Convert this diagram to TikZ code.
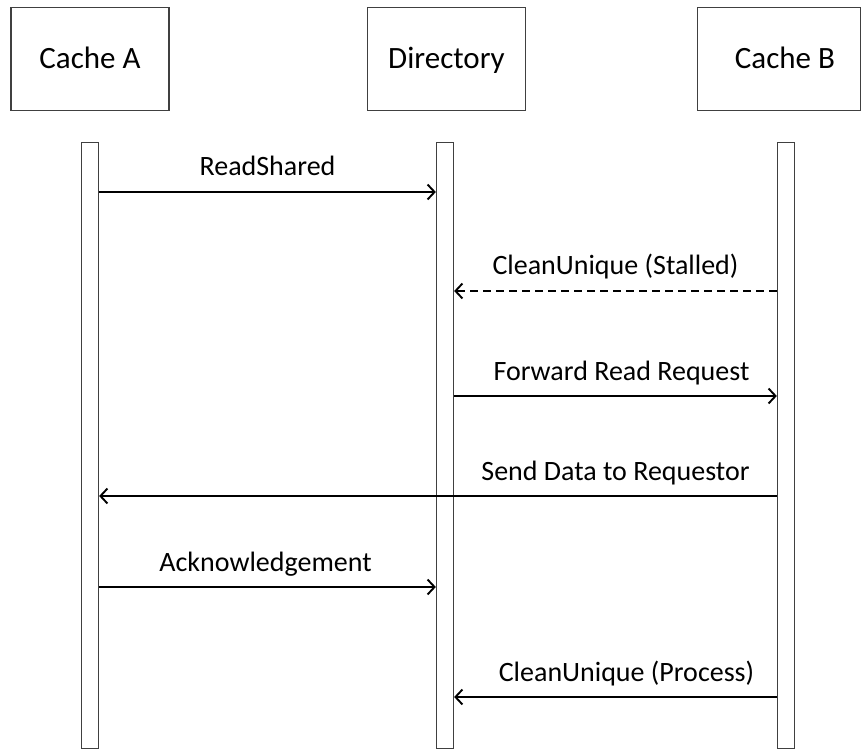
\documentclass[tikz,border=0pt]{standalone}
\usepackage{fontspec}
\setmainfont{Carlito}
\usetikzlibrary{arrows.meta}
\usetikzlibrary{calc}
\usetikzlibrary{positioning}

\begin{document}
\begin{tikzpicture}
  [
    x = 1pt, y = -1pt,
    node distance = 31pt,
    box/.style = {rectangle, draw = black!75, line width = 1.3pt,
                  minimum width = 158pt, minimum height = 103pt,
                  text height = 20pt, text depth = 0pt,
                  inner sep = 0pt, font = \fontsize{31}{36}\selectfont},
    life/.style = {rectangle, draw = black!75, line width = 1.3pt,
                   minimum width = 17pt, minimum height = 606pt, inner sep = 0pt},
    msg/.style = {line width = 1.9pt, -{Straight Barb[length = 7pt, width = 15pt]}},
    stalled/.style = {msg, dash pattern = on 8pt off 5pt},
    msglabel/.style = {anchor = base, inner sep = 0pt,
                       font = \fontsize{28}{34}\selectfont},
  ]
  \useasboundingbox (0,0) rectangle (862,751);

  % participants
  \node[box] (cacheA) at (90,59) {Cache A};
  \node[box] (dir) at (446.5,59) {Directory};
  \node[box, minimum width = 163pt] (cacheB) at (779,59) {\hspace{12pt}Cache B};

  % lifelines
  \node[life, below = of cacheA] (lineA) {};
  \node[life, below = of dir, xshift = -1.5pt] (lineD) {};
  \node[life, below = of cacheB, xshift = 7pt] (lineB) {};

  \coordinate (midAD) at ($(lineA)!0.5!(lineD)$);
  \coordinate (midDB) at ($(lineD)!0.5!(lineB)$);

  % messages
  \draw[msg] (lineA.east |- 0,192) -- (lineD.west |- 0,192);
  \node[msglabel] (readshared) at (midAD |- 0,176) {ReadShared};

  \draw[stalled] (lineB.west |- 0,291) -- (lineD.east |- 0,291);
  \node[msglabel] (stall) at (midDB |- 0,275) {CleanUnique (Stalled)};

  \draw[msg] (lineD.east |- 0,396) -- (lineB.west |- 0,396);
  \node[msglabel, xshift = 6pt] (forward) at (midDB |- 0,380) {Forward Read Request};

  \draw[msg] (lineB.west |- 0,496) -- (lineA.east |- 0,496);
  \node[msglabel] (senddata) at (midDB |- 0,480) {Send Data to Requestor};

  \draw[msg] (lineA.east |- 0,587) -- (lineD.west |- 0,587);
  \node[msglabel, xshift = -2pt] (ack) at (midAD |- 0,571) {Acknowledgement};

  \draw[msg] (lineB.west |- 0,697) -- (lineD.east |- 0,697);
  \node[msglabel, xshift = 11pt] (process) at (midDB |- 0,681) {CleanUnique (Process)};
\end{tikzpicture}
\end{document}
